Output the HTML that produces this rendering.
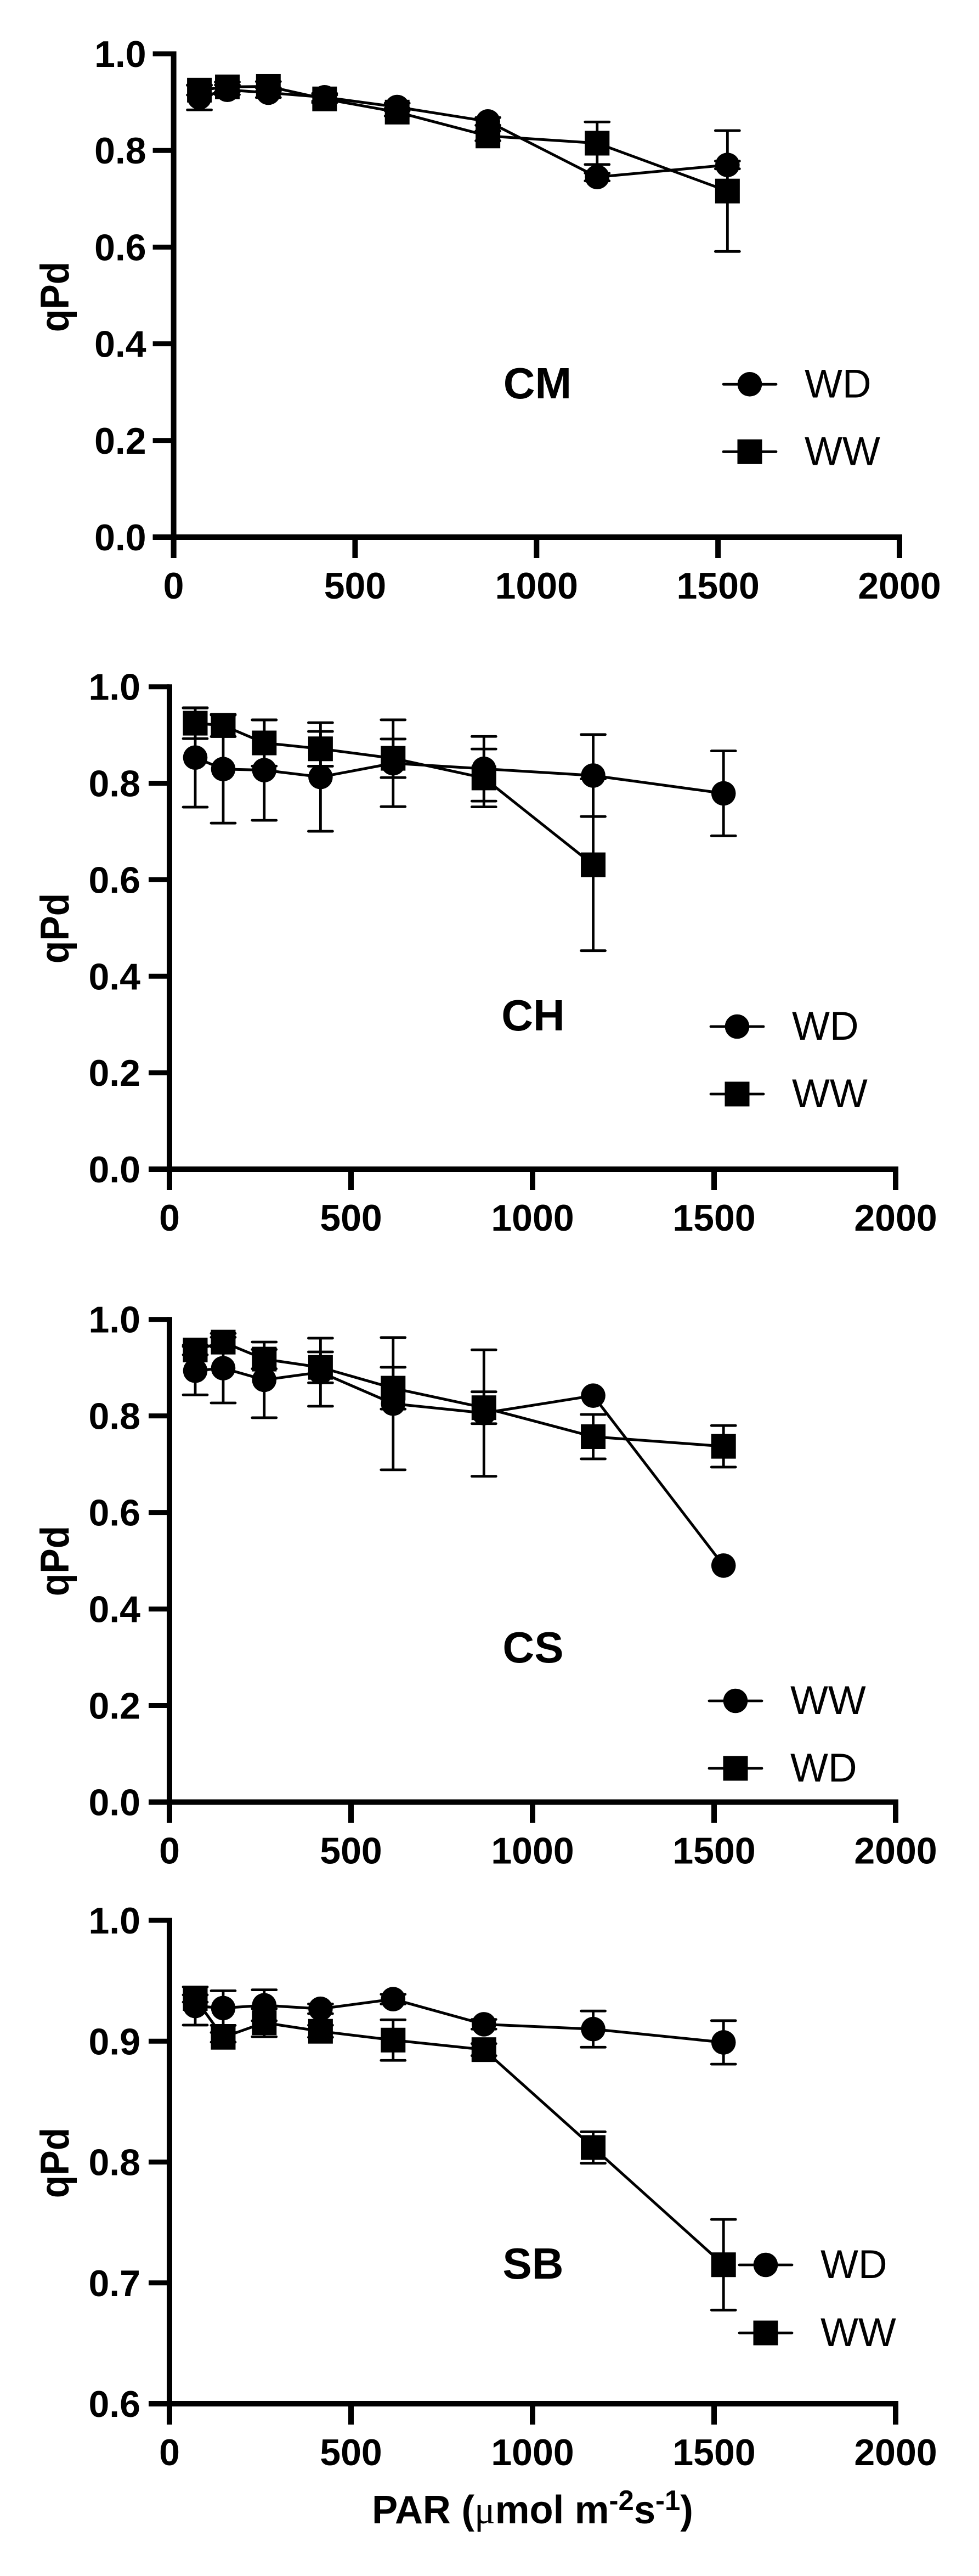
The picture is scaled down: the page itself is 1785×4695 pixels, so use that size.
<!DOCTYPE html>
<html lang="en">
<head>
<meta charset="utf-8">
<title>qPd versus PAR</title>
<style>
html,body{margin:0;padding:0;background:#fff;}
svg{display:block;}
text{font-family:"Liberation Sans",Arial,sans-serif;fill:#000;}
</style>
</head>
<body>
<svg id="chart" xmlns="http://www.w3.org/2000/svg" width="1785" height="4695" viewBox="0 0 1785 4695"></svg>
<script>
const parValues = [71, 148, 261, 416, 616, 866, 1167, 1526];
const xTickValues = [0, 500, 1000, 1500, 2000];
const xTickLabels = ["0", "500", "1000", "1500", "2000"];
const yTickValuesFull = [0, 0.2, 0.4, 0.6, 0.8, 1.0];
const yTickLabelsFull = ["0.0", "0.2", "0.4", "0.6", "0.8", "1.0"];
const yTickValuesZoom = [0.6, 0.7, 0.8, 0.9, 1.0];
const yTickLabelsZoom = ["0.6", "0.7", "0.8", "0.9", "1.0"];

const cmCircleValues = [0.9096, 0.9254, 0.9194, 0.910, 0.8899, 0.860, 0.745, 0.770];
const cmCircleErrors = [0.0257, 0.010, 0.010, 0.008, 0.008, 0.008, 0.008, 0.008];
const cmSquareValues = [0.9247, 0.9315, 0.9325, 0.9066, 0.8793, 0.830, 0.815, 0.716];
const cmSquareErrors = [0.010, 0.010, 0.010, 0.008, 0.008, 0.010, 0.044, 0.125];

const chCircleValues = [0.8532, 0.8294, 0.8272, 0.8130, 0.8415, 0.830, 0.816, 0.779];
const chCircleErrors = [0.1027, 0.112, 0.104, 0.1125, 0.090, 0.067, 0.085, 0.088];
const chSquareValues = [0.9245, 0.9198, 0.8836, 0.8714, 0.8517, 0.811, 0.631, null];
const chSquareErrors = [0.032, 0.023, 0.048, 0.036, 0.040, 0.060, 0.178, null];

const csCircleValues = [0.8936, 0.8989, 0.8747, 0.8906, 0.8254, 0.806, 0.842, 0.490];
const csCircleErrors = [0.050, 0.072, 0.0784, 0.0705, 0.137, 0.131, 0, 0];
const csSquareValues = [0.9366, 0.9529, 0.9177, 0.9006, 0.8575, 0.817, 0.757, 0.737];
const csSquareErrors = [0.010, 0.010, 0.020, 0.032, 0.0433, 0.033, 0.046, 0.043];

const sbCircleValues = [0.9291, 0.9274, 0.9297, 0.9268, 0.9348, 0.914, 0.910, 0.899];
const sbCircleErrors = [0.0158, 0.0143, 0.0128, 0.004, 0.004, 0.004, 0.015, 0.018];
const sbSquareValues = [0.9353, 0.9032, 0.9153, 0.9082, 0.9009, 0.893, 0.812, 0.715];
const sbSquareErrors = [0.003, 0.004, 0.0116, 0.005, 0.0168, 0.005, 0.013, 0.0375];

const NS = "http://www.w3.org/2000/svg";
const root = document.getElementById("chart");

function make(tag, attrs, parent) {
  const el = document.createElementNS(NS, tag);
  for (const k in attrs) el.setAttribute(k, attrs[k]);
  parent.appendChild(el);
  return el;
}

function drawMarker(kind, cx, cy, parent, name) {
  let m;
  if (kind === "circle") {
    m = make("circle", {cx: cx, cy: cy, r: 22.3, fill: "#000"}, parent);
  } else {
    m = make("rect", {x: cx - 22.5, y: cy - 22.5, width: 45, height: 45, fill: "#000"}, parent);
  }
  
  
}

function drawSeries(kind, values, errors, sx, sy, parent, name) {
  const g = make("g", {}, parent);
  
  
  const pts = [];
  parValues.forEach((p, i) => { if (values[i] !== null) pts.push(sx(p) + "," + sy(values[i])); });
  const line = make("polyline", {points: pts.join(" "), fill: "none", stroke: "#000", "stroke-width": 5}, g);
  
  
  parValues.forEach((p, i) => {
    if (values[i] === null || !errors[i]) return;
    const x = sx(p);
    const hi = sy(values[i] + errors[i]);
    const lo = sy(values[i] - errors[i]);
    const eb = make("path", {
      d: "M" + x + " " + hi + "V" + lo + "M" + (x - 22) + " " + hi + "H" + (x + 22) + "M" + (x - 22) + " " + lo + "H" + (x + 22),
      fill: "none", stroke: "#000", "stroke-width": 4.8, "stroke-linecap": "round"
    }, g);
    
    
  });
  parValues.forEach((p, i) => {
    if (values[i] === null) return;
    drawMarker(kind, sx(p), sy(values[i]), g, name + '-point');
  });
}

function drawPanel(o) {
  const g = make("g", {}, root);
  
  
  const sx = v => o.x0 + (v - 0) * (o.x2000 - o.x0) / 2000;
  const yMin = o.yTicks[0];
  const yMax = o.yTicks[o.yTicks.length - 1];
  const sy = v => o.yBottom + (v - yMin) * (o.yTop - o.yBottom) / (yMax - yMin);

  const yAxis = make("line", {x1: o.x0, x2: o.x0, y1: o.yTop - 4.5, y2: o.yBottom + 38, stroke: "#000", "stroke-width": 10}, g);
  
  
  const xAxis = make("line", {x1: o.x0 - 38, x2: o.x2000 + 5, y1: o.yBottom, y2: o.yBottom, stroke: "#000", "stroke-width": 10}, g);
  
  

  o.yTicks.forEach((v, i) => {
    const y = sy(v);
    const t = make("line", {x1: o.x0 - 38, x2: o.x0, y1: y, y2: y, stroke: "#000", "stroke-width": 9}, g);
    
    
    const l = make("text", {x: o.x0 - o.labelGap, y: y + 24, "text-anchor": "end", "font-size": 68, "font-weight": "bold"}, g);
    l.textContent = o.yLabels[i];
    
    
  });
  xTickValues.forEach((v, i) => {
    const x = sx(v);
    const t = make("line", {x1: x, x2: x, y1: o.yBottom, y2: o.yBottom + 38, stroke: "#000", "stroke-width": 10}, g);
    
    
    const l = make("text", {x: x, y: o.yBottom + 112, "text-anchor": "middle", "font-size": 68, "font-weight": "bold"}, g);
    l.textContent = xTickLabels[i];
    
    
  });

  const yt = make("text", {transform: "translate(125," + o.titleY + ") rotate(-90) scale(1,1.08)", "text-anchor": "middle", "font-size": 68, "font-weight": "bold"}, g);
  yt.textContent = "qPd";
  
  

  drawSeries("circle", o.circleValues, o.circleErrors, sx, sy, g, o.id + '-circle-series');
  drawSeries("square", o.squareValues, o.squareErrors, sx, sy, g, o.id + '-square-series');

  const pl = make("text", {x: o.labelX, y: o.labelY, "text-anchor": "middle", "font-size": 80, "font-weight": "bold"}, g);
  pl.textContent = o.label;
  
  

  [["circle", o.circleName, o.legendY1], ["square", o.squareName, o.legendY2]].forEach(row => {
    const lg = make("g", {}, g);
    
    
    const sw = make("line", {x1: o.legendX - 48, x2: o.legendX + 48, y1: row[2], y2: row[2], stroke: "#000", "stroke-width": 4.8, "stroke-linecap": "round"}, lg);
    
    
    drawMarker(row[0], o.legendX, row[2], lg, 'legend-marker');
    const tx = make("text", {x: o.legendX + 100, y: row[2] + 24, "font-size": 73}, lg);
    tx.textContent = row[1];
    
    
  });
}

drawPanel({id: "cm", label: "CM", x0: 316.6, x2000: 1640, yTop: 98, yBottom: 979, labelGap: 50,
  yTicks: yTickValuesFull, yLabels: yTickLabelsFull, titleY: 541,
  circleValues: cmCircleValues, circleErrors: cmCircleErrors, squareValues: cmSquareValues, squareErrors: cmSquareErrors,
  circleName: "WD", squareName: "WW", labelX: 980, labelY: 726, legendX: 1367, legendY1: 700.3, legendY2: 823.3});

drawPanel({id: "ch", label: "CH", x0: 309, x2000: 1633, yTop: 1251.7, yBottom: 2131, labelGap: 53,
  yTicks: yTickValuesFull, yLabels: yTickLabelsFull, titleY: 1692,
  circleValues: chCircleValues, circleErrors: chCircleErrors, squareValues: chSquareValues, squareErrors: chSquareErrors,
  circleName: "WD", squareName: "WW", labelX: 972, labelY: 1878, legendX: 1344, legendY1: 1871, legendY2: 1994});

drawPanel({id: "cs", label: "CS", x0: 309, x2000: 1633, yTop: 2404.7, yBottom: 3284.5, labelGap: 53,
  yTicks: yTickValuesFull, yLabels: yTickLabelsFull, titleY: 2845,
  circleValues: csCircleValues, circleErrors: csCircleErrors, squareValues: csSquareValues, squareErrors: csSquareErrors,
  circleName: "WW", squareName: "WD", labelX: 972, labelY: 3030, legendX: 1341, legendY1: 3100, legendY2: 3223});

drawPanel({id: "sb", label: "SB", x0: 309, x2000: 1633, yTop: 3500, yBottom: 4381, labelGap: 53,
  yTicks: yTickValuesZoom, yLabels: yTickLabelsZoom, titleY: 3942,
  circleValues: sbCircleValues, circleErrors: sbCircleErrors, squareValues: sbSquareValues, squareErrors: sbSquareErrors,
  circleName: "WD", squareName: "WW", labelX: 972, labelY: 4153, legendX: 1396, legendY1: 4128, legendY2: 4252});

const xTitle = make("text", {transform: "translate(971,4599) scale(0.98,1)", "text-anchor": "middle", "font-size": 72, "font-weight": "bold"}, root);


xTitle.innerHTML = 'PAR (<tspan font-family="Liberation Serif" font-weight="normal">μ</tspan>mol m<tspan dy="-24" font-size="52">-2</tspan><tspan dy="24">s</tspan><tspan dy="-24" font-size="52">-1</tspan><tspan dy="24">)</tspan>';
</script>
</body>
</html>
